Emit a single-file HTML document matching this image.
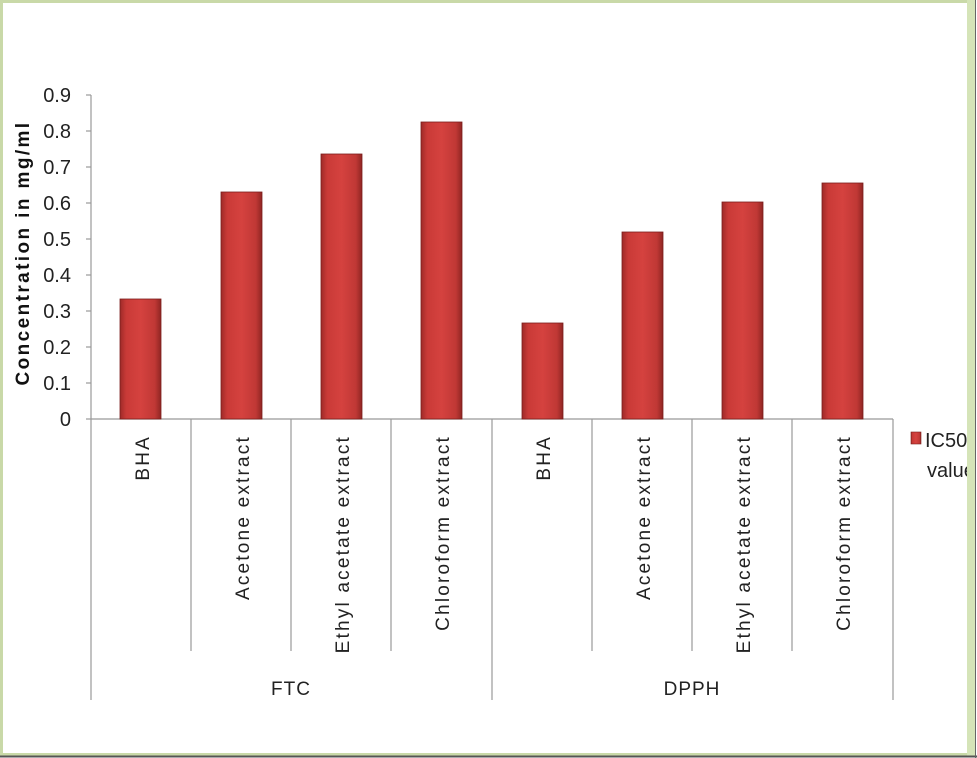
<!DOCTYPE html>
<html><head><style>
body{margin:0;background:#fff;}
svg{display:block;font-family:"Liberation Sans",sans-serif;}
</style></head><body>
<svg width="977" height="758" viewBox="0 0 977 758">
<defs>
<linearGradient id="g" x1="0" x2="1" y1="0" y2="0">
<stop offset="0" stop-color="#9e2a28"/>
<stop offset="0.15" stop-color="#c93a37"/>
<stop offset="0.5" stop-color="#d5423f"/>
<stop offset="0.85" stop-color="#c03835"/>
<stop offset="1" stop-color="#8f2523"/>
</linearGradient>
</defs>
<rect x="0" y="0" width="977" height="758" fill="#fff"/>
<rect x="1.5" y="1.5" width="970" height="753" fill="none" stroke="#c9d9a8" stroke-width="3"/>
<rect x="967" y="0" width="8" height="756" fill="#d5e4b8"/>
<line x1="0" y1="756.5" x2="977" y2="756.5" stroke="#555" stroke-width="2"/>
<line x1="975.5" y1="0" x2="975.5" y2="758" stroke="#666" stroke-width="1"/>
<g stroke="#999" stroke-width="1.2">
<line x1="91" y1="95" x2="91" y2="700"/>
<line x1="86" y1="95" x2="91" y2="95"/><line x1="86" y1="131" x2="91" y2="131"/>
<line x1="86" y1="167" x2="91" y2="167"/><line x1="86" y1="203" x2="91" y2="203"/>
<line x1="86" y1="239" x2="91" y2="239"/><line x1="86" y1="275" x2="91" y2="275"/>
<line x1="86" y1="311" x2="91" y2="311"/><line x1="86" y1="347" x2="91" y2="347"/>
<line x1="86" y1="383" x2="91" y2="383"/><line x1="86" y1="419" x2="91" y2="419"/>
<line x1="91" y1="419" x2="893" y2="419"/>
<line x1="191" y1="419" x2="191" y2="651"/><line x1="291" y1="419" x2="291" y2="651"/>
<line x1="391" y1="419" x2="391" y2="651"/><line x1="492" y1="419" x2="492" y2="700"/>
<line x1="592" y1="419" x2="592" y2="651"/><line x1="692" y1="419" x2="692" y2="651"/>
<line x1="792" y1="419" x2="792" y2="651"/><line x1="893" y1="419" x2="893" y2="700"/>
</g>
<g font-size="20" fill="#222" text-anchor="end">
<text x="71" y="102">0.9</text><text x="71" y="138">0.8</text><text x="71" y="174">0.7</text>
<text x="71" y="210">0.6</text><text x="71" y="246">0.5</text><text x="71" y="282">0.4</text>
<text x="71" y="318">0.3</text><text x="71" y="354">0.2</text><text x="71" y="390">0.1</text>
<text x="71" y="426">0</text>
</g>
<text transform="translate(29,253) rotate(-90)" text-anchor="middle" font-size="19" font-weight="bold" letter-spacing="2.4" fill="#111">Concentration in mg/ml</text>
<g fill="url(#g)" stroke="#7a1e1c" stroke-width="0.8">
<rect x="120" y="299" width="41" height="120"/>
<rect x="221" y="192" width="41" height="227"/>
<rect x="321" y="154" width="41" height="265"/>
<rect x="421" y="122" width="41" height="297"/>
<rect x="522" y="323" width="41" height="96"/>
<rect x="622" y="232" width="41" height="187"/>
<rect x="722" y="202" width="41" height="217"/>
<rect x="822" y="183" width="41" height="236"/>
</g>
<g font-size="19" fill="#222" text-anchor="end" letter-spacing="2.2">
<text transform="translate(149,435) rotate(-90)">BHA</text>
<text transform="translate(249,435) rotate(-90)">Acetone extract</text>
<text transform="translate(349,435) rotate(-90)">Ethyl acetate extract</text>
<text transform="translate(449,435) rotate(-90)">Chloroform extract</text>
<text transform="translate(550,435) rotate(-90)">BHA</text>
<text transform="translate(650,435) rotate(-90)">Acetone extract</text>
<text transform="translate(750,435) rotate(-90)">Ethyl acetate extract</text>
<text transform="translate(850,435) rotate(-90)">Chloroform extract</text>
</g>
<g font-size="19" fill="#222" text-anchor="middle" letter-spacing="1">
<text x="291" y="695">FTC</text>
<text x="692" y="695">DPPH</text>
</g>
<rect x="911" y="432" width="10" height="12" fill="url(#g)" stroke="#7a1e1c" stroke-width="0.6"/>
<text x="925" y="447" font-size="20" fill="#222">IC50</text>
<text x="927" y="477" font-size="20" fill="#222">value</text>
<rect x="967" y="420" width="8" height="70" fill="#d5e4b8"/>
</svg>
</body></html>
